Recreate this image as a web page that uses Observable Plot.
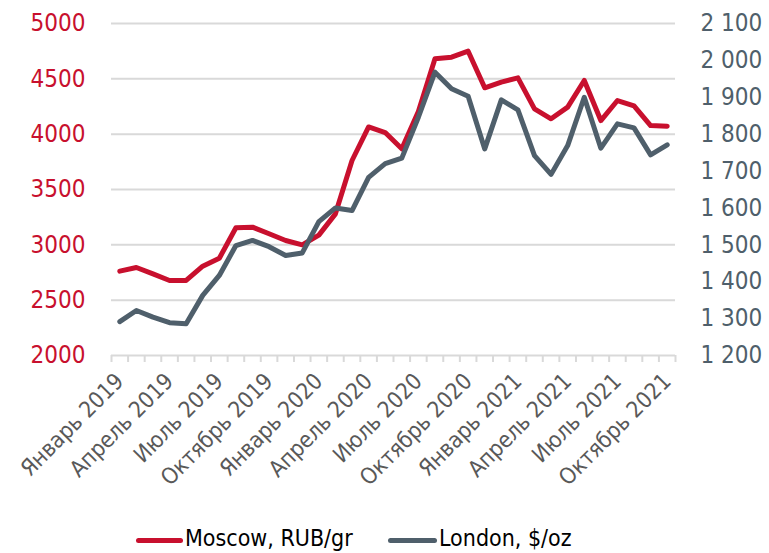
<!DOCTYPE html>
<html><head><meta charset="utf-8">
<script src="https://cdn.jsdelivr.net/npm/d3@7"></script>
<script src="https://cdn.jsdelivr.net/npm/@observablehq/plot@0.6"></script>
<style>
body{margin:0;background:#fff;font-family:"DejaVu Sans Condensed","DejaVu Sans",sans-serif;}
#legend{position:relative;height:43px;width:769px;font-size:23px;color:#000;}
#legend .sw{position:absolute;height:5px;top:28px;border-radius:3px;}
#legend .tx{position:absolute;top:15px;line-height:26px;white-space:nowrap;}
</style></head><body><div id="chart"></div><div id="legend"></div>
<script>
const monthNames = ["Январь","Февраль","Март","Апрель","Май","Июнь","Июль","Август","Сентябрь","Октябрь","Ноябрь","Декабрь"];
const years = [2019, 2020, 2021];
const moscow = [2762, 2795, 2738, 2678, 2678, 2807, 2879, 3154, 3160, 3100, 3039, 3000, 3088, 3280, 3762, 4065, 4015, 3868, 4205, 4681, 4696, 4750, 4419, 4470, 4509, 4229, 4139, 4244, 4485, 4123, 4304, 4256, 4078, 4072];
const london = [1292, 1322, 1304, 1289, 1286, 1363, 1417, 1498, 1512, 1495, 1471, 1478, 1563, 1600, 1593, 1683, 1720, 1735, 1846, 1968, 1923, 1903, 1760, 1893, 1866, 1742, 1691, 1769, 1900, 1762, 1828, 1817, 1744, 1771];
const leftTicks = [2000, 2500, 3000, 3500, 4000, 4500, 5000];
const rightTicks = [1200, 1300, 1400, 1500, 1600, 1700, 1800, 1900, 2000, 2100];
const seriesNames = ["Moscow, RUB/gr", "London, $/oz"];
const colors = ["#c8102e", "#4f5f6b"];

const months = d3.range(moscow.length).map(i => monthNames[i % 12] + " " + years[Math.floor(i / 12)]);
const leftDom = [leftTicks[0], leftTicks[leftTicks.length - 1]];
const rightDom = [rightTicks[0], rightTicks[rightTicks.length - 1]];
const toLeft = v => leftDom[0] + (v - rightDom[0]) * (leftDom[1] - leftDom[0]) / (rightDom[1] - rightDom[0]);
const toRight = v => rightDom[0] + (v - leftDom[0]) * (rightDom[1] - rightDom[0]) / (leftDom[1] - leftDom[0]);
const rows = months.map((m, i) => ({i, month: m, moscow: moscow[i], london: toLeft(london[i])}));
const labelIdx = d3.range(0, months.length, 3);
const boundaries = d3.range(-0.5, months.length, 1);
const fmtRight = v => d3.format(",")(Math.round(v)).replace(/,/g, " ");

const chart = Plot.plot({
  width: 769, height: 510,
  marginTop: 23, marginBottom: 155, marginLeft: 111, marginRight: 94,
  x: {type: "linear", domain: [-0.5, months.length - 0.5]},
  y: {domain: leftDom},
  style: {fontFamily: '"DejaVu Sans Condensed","DejaVu Sans",sans-serif', fontSize: "24px", background: "#fff"},
  marks: [
    Plot.ruleY(leftTicks, {stroke: "#d9d9d9", strokeWidth: 2}),
    Plot.axisX(boundaries, {tickSize: 7, tickFormat: () => "", stroke: "#d9d9d9", strokeWidth: 2, label: null}),
    Plot.axisX(labelIdx, {tickSize: 0, tickPadding: 22, tickRotate: -45, tickFormat: i => months[i], fill: "#595959", fontSize: 22.5, label: null}),
    Plot.axisY(leftTicks, {anchor: "left", tickSize: 0, tickPadding: 26, tickFormat: d => String(d), fill: colors[0], label: null}),
    Plot.axisY(rightTicks.map(toLeft), {anchor: "right", tickSize: 0, tickPadding: 25, tickFormat: d => fmtRight(toRight(d)), fill: colors[1], label: null}),
    Plot.line(rows, {x: "i", y: "moscow", stroke: colors[0], strokeWidth: 5, strokeLinejoin: "round"}),
    Plot.line(rows, {x: "i", y: "london", stroke: colors[1], strokeWidth: 5, strokeLinejoin: "round"})
  ]
});
document.getElementById("chart").appendChild(chart);

const legend = document.getElementById("legend");
const swLeft = [136, 388], swW = [47, 49];
seriesNames.forEach((name, k) => {
  const sw = document.createElement("div");
  sw.className = "sw"; sw.style.left = swLeft[k] + "px"; sw.style.width = swW[k] + "px"; sw.style.background = colors[k];
  const tx = document.createElement("div");
  tx.className = "tx"; tx.style.left = (swLeft[k] + swW[k] + 2) + "px"; tx.textContent = name;
  legend.appendChild(sw); legend.appendChild(tx);
});
</script>
</body></html>
